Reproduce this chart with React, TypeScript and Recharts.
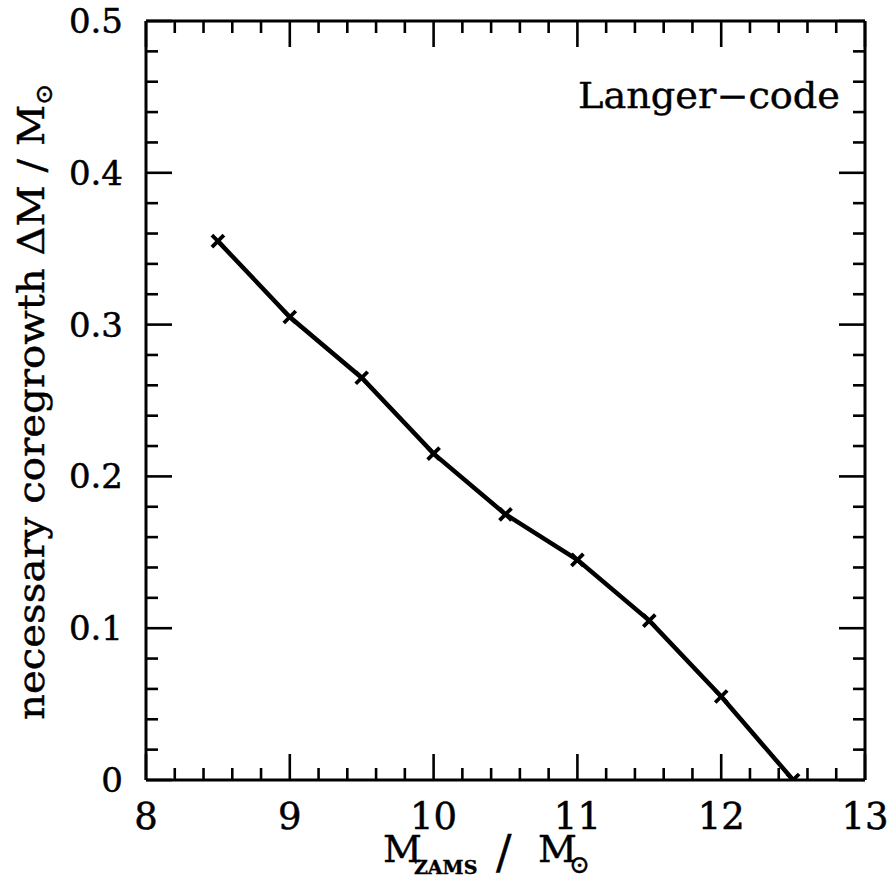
import { LineChart, Line, XAxis, YAxis } from 'recharts';

// Langer-code: core growth needed vs. ZAMS mass
const masses = [8.5, 9, 9.5, 10, 10.5, 11, 11.5, 12, 12.5];
const coreGrowth = [0.355, 0.305, 0.265, 0.215, 0.175, 0.145, 0.105, 0.055, 0.0];

const xTicks = [
  8, 8.2, 8.4, 8.6, 8.8, 9, 9.2, 9.4, 9.6, 9.8, 10, 10.2, 10.4, 10.6, 10.8,
  11, 11.2, 11.4, 11.6, 11.8, 12, 12.2, 12.4, 12.6, 12.8, 13,
];
const yTicks = [
  0, 0.02, 0.04, 0.06, 0.08, 0.1, 0.12, 0.14, 0.16, 0.18, 0.2, 0.22, 0.24, 0.26,
  0.28, 0.3, 0.32, 0.34, 0.36, 0.38, 0.4, 0.42, 0.44, 0.46, 0.48, 0.5,
];
const xLabels = ['8', '9', '10', '11', '12', '13'];
const yLabels = ['0', '0.1', '0.2', '0.3', '0.4', '0.5'];

const data = masses.map((m, i) => ({ m, dm: coreGrowth[i] }));

const W = 890;
const H = 878;
const MARGIN = { top: 20, right: 24, bottom: 38, left: 0 };
const TOP_H = 1;
const PLOT_TOP = MARGIN.top + TOP_H; // frame top, used for the mirrored top ticks

const FONT = '"DejaVu Serif", serif';
const MAJOR = 26;
const MINOR = 12;
const TICK_W = 2.6;

const isMajorX = (v: number) => Math.abs(v - Math.round(v)) < 1e-6;
const isMajorY = (v: number) => Math.abs(v * 10 - Math.round(v * 10)) < 1e-6;

// bottom tick + its mirror on the top edge
const BottomTick = (props: any) => {
  const { x, y, payload } = props;
  const major = isMajorX(payload.value);
  const len = major ? MAJOR : MINOR;
  const label = xLabels.find((s) => Math.abs(Number(s) - payload.value) < 1e-6);
  return (
    <g>
      <line x1={x} x2={x} y1={y} y2={y - len} stroke="#000" strokeWidth={TICK_W} />
      <line x1={x} x2={x} y1={PLOT_TOP} y2={PLOT_TOP + len} stroke="#000" strokeWidth={TICK_W} />
      {major && label && (
        <text x={x} y={y + 49} textAnchor="middle" fontFamily={FONT} fontSize={37} fill="#000" stroke="#000" strokeWidth={0.5}>
          {label}
        </text>
      )}
    </g>
  );
};

const LeftTick = (props: any) => {
  const { x, y, payload } = props;
  const major = isMajorY(payload.value);
  const label = yLabels.find((s) => Math.abs(Number(s) - payload.value) < 1e-6);
  return (
    <g>
      <line x1={x} x2={x + (major ? MAJOR : MINOR)} y1={y} y2={y} stroke="#000" strokeWidth={TICK_W} />
      {major && label && (
        <text x={x - 23} y={y + 12} textAnchor="end" fontFamily={FONT} fontSize={34} fill="#000" stroke="#000" strokeWidth={0.5}>
          {label}
        </text>
      )}
    </g>
  );
};

const RightTick = (props: any) => {
  const { x, y, payload } = props;
  const major = isMajorY(payload.value);
  return <line x1={x} x2={x - (major ? MAJOR : MINOR)} y1={y} y2={y} stroke="#000" strokeWidth={TICK_W} />;
};

const Cross = (props: any) => {
  const { cx, cy } = props;
  if (cx == null || cy == null) return null;
  const s = 6;
  return (
    <path
      d={`M${cx - s},${cy - s}L${cx + s},${cy + s}M${cx - s},${cy + s}L${cx + s},${cy - s}`}
      stroke="#000"
      strokeWidth={3.8}
      fill="none"
    />
  );
};

const XTitle = () => (
  <text y={862} fontFamily={FONT} fontSize={38} fill="#000" stroke="#000" strokeWidth={0.4}>
    <tspan x={383}>M</tspan>
    <tspan x={414} y={874} fontSize={19} fontWeight="bold">ZAMS</tspan>
    <tspan x={496} y={868} fontSize={46}>/</tspan>
    <tspan x={538} y={862}>M</tspan>
    <tspan x={569} y={873} fontSize={25}>⊙</tspan>
  </text>
);

const YTitle = () => (
  <text
    x={44}
    y={720}
    transform="rotate(-90, 44, 720)"
    fontFamily={FONT}
    fontSize={37}
    fill="#000"
    stroke="#000"
    strokeWidth={0.4}
    textLength={637}
    lengthAdjust="spacingAndGlyphs"
  >
    necessary coregrowth ΔM / M
    <tspan fontSize={24} dy={8}>⊙</tspan>
  </text>
);

const CodeTag = () => (
  <text
    x={578}
    y={108}
    fontFamily={FONT}
    fontSize={35}
    fill="#000"
    stroke="#000"
    strokeWidth={0.4}
    textLength={262}
    lengthAdjust="spacingAndGlyphs"
  >
    Langer−code
  </text>
);

export default function App() {
  return (
    <div
      style={{
        position: 'absolute',
        left: 0,
        top: 0,
        width: W,
        height: H,
        overflow: 'hidden',
        background: '#fff',
      }}
    >
      <LineChart width={W} height={H} data={data} margin={MARGIN}>
        <XAxis
          xAxisId="bottom"
          orientation="bottom"
          type="number"
          dataKey="m"
          domain={[8, 13]}
          ticks={xTicks}
          interval={0}
          allowDataOverflow
          height={60}
          tickSize={0}
          tickMargin={0}
          tickLine={false}
          tick={<BottomTick />}
          axisLine={{ stroke: '#000', strokeWidth: 3 }}
          label={{ content: () => <XTitle /> }}
        />
        <XAxis
          xAxisId="top"
          orientation="top"
          type="number"
          dataKey="m"
          domain={[8, 13]}
          allowDataOverflow
          height={TOP_H}
          tick={false}
          tickLine={false}
          axisLine={{ stroke: '#000', strokeWidth: 3 }}
          label={{ content: () => <CodeTag /> }}
        />
        <YAxis
          yAxisId="left"
          orientation="left"
          type="number"
          domain={[0, 0.5]}
          ticks={yTicks}
          interval={0}
          allowDataOverflow
          width={146}
          tickSize={0}
          tickMargin={0}
          tickLine={false}
          tick={<LeftTick />}
          axisLine={{ stroke: '#000', strokeWidth: 3 }}
          label={{ content: () => <YTitle /> }}
        />
        <YAxis
          yAxisId="right"
          orientation="right"
          type="number"
          domain={[0, 0.5]}
          ticks={yTicks}
          interval={0}
          allowDataOverflow
          width={1}
          tickSize={0}
          tickMargin={0}
          tickLine={false}
          tick={<RightTick />}
          axisLine={{ stroke: '#000', strokeWidth: 3 }}
        />
        <Line
          xAxisId="bottom"
          yAxisId="left"
          type="linear"
          dataKey="dm"
          stroke="#000"
          strokeWidth={4.5}
          dot={<Cross />}
          activeDot={false}
          isAnimationActive={false}
        />
      </LineChart>
    </div>
  );
}
